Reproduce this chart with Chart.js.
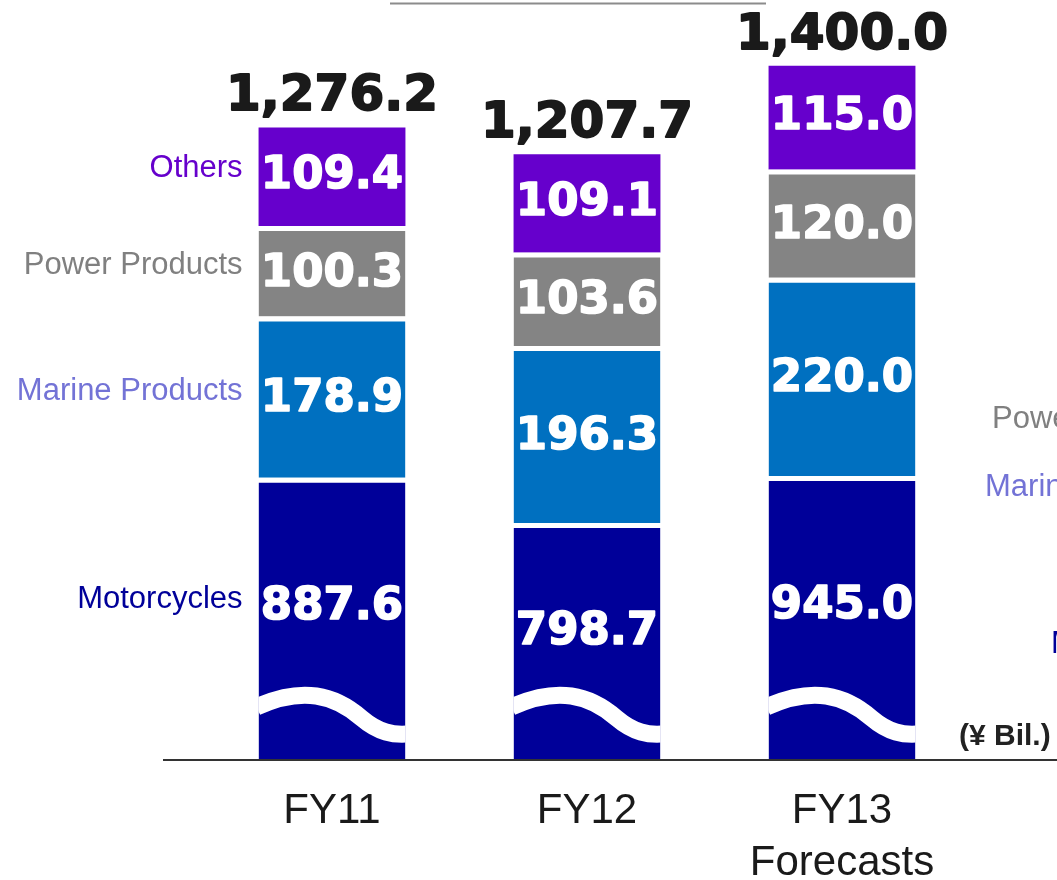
<!DOCTYPE html>
<html>
<head>
<meta charset="utf-8">
<script src="https://cdn.jsdelivr.net/npm/chart.js@4/dist/chart.umd.min.js"></script>
<style>
  html, body { margin: 0; padding: 0; background: #fff; }
  #wrap { width: 1057px; height: 880px; }
</style>
</head>
<body>
<div id="wrap"><canvas id="chart" width="1057" height="880"></canvas></div>
<script>
// Data (¥ Bil.)
const categories = ['FY11', 'FY12', ['FY13', 'Forecasts']];
const totals = [1276.2, 1207.7, 1400.0];
const motorcycles = [887.6, 798.7, 945.0];
// part of the motorcycle bar drawn above the axis break
const motorcyclesShown = [313, 263, 315];
const marine = [178.9, 196.3, 220.0];
const power = [100.3, 103.6, 120.0];
const others = [109.4, 109.1, 115.0];
const yMax = 843;

const segmentNames = ['Motorcycles', 'Marine Products', 'Power Products', 'Others'];
const segmentColors = ['#000099', '#0070C0', '#848484', '#6600CC'];
const nameColors = ['#000099', '#7373D6', '#808080', '#6600CC'];
const gap = 5;

// narrow font for the category labels if it is installed
function fontExists(name) {
  const c = document.createElement('canvas').getContext('2d');
  c.font = '40px monospace';
  const base = c.measureText('FY11 Forecasts').width;
  c.font = '40px "' + name + '", monospace';
  return c.measureText('FY11 Forecasts').width !== base;
}
const tickFont = fontExists('Liberation Sans Narrow')
  ? { family: '"Liberation Sans Narrow"', size: 48, lineHeight: 52 / 48 }
  : { family: '"Liberation Sans", Arial', size: 42, lineHeight: 52 / 42 };

// heavy text: fill plus a thin stroke of the same colour
function heavyText(ctx, txt, x, y, color, weight) {
  ctx.fillStyle = color;
  ctx.strokeStyle = color;
  ctx.lineWidth = weight;
  ctx.lineJoin = 'round';
  ctx.strokeText(txt, x, y);
  ctx.fillText(txt, x, y);
}

const decorPlugin = {
  id: 'decor',
  afterDatasetsDraw(chart) {
    const ctx = chart.ctx;
    const base = chart.scales.y.getPixelForValue(0);
    const values = [motorcycles, marine, power, others];

    // wavy break across the motorcycle bars
    chart.getDatasetMeta(0).data.forEach(bar => {
      const L = bar.x - bar.width / 2, w = bar.width;
      ctx.save();
      ctx.beginPath();
      ctx.rect(L, bar.y, w, base - bar.y);
      ctx.clip();
      ctx.beginPath();
      ctx.moveTo(L - 2, base - 53);
      ctx.bezierCurveTo(L + 0.3 * w, base - 74, L + 0.52 * w, base - 65, L + 0.7 * w, base - 42);
      ctx.bezierCurveTo(L + 0.82 * w, base - 27, L + 0.92 * w, base - 25, L + w + 2, base - 26);
      ctx.strokeStyle = '#fff';
      ctx.lineWidth = 17;
      ctx.stroke();
      ctx.restore();
    });

    // base line
    ctx.save();
    ctx.strokeStyle = '#333';
    ctx.lineWidth = 2;
    ctx.beginPath();
    ctx.moveTo(163, base);
    ctx.lineTo(1057, base);
    ctx.stroke();

    // top rule (cut off title)
    ctx.strokeStyle = '#8c8c8c';
    ctx.beginPath();
    ctx.moveTo(390, 3.5);
    ctx.lineTo(766, 3.5);
    ctx.stroke();

    // values inside segments + names on the left
    ctx.textBaseline = 'middle';
    chart.data.datasets.forEach((ds, di) => {
      chart.getDatasetMeta(di).data.forEach((bar, i) => {
        const top = bar.y + (di < 3 ? gap : 0);
        const bottom = bar.base;
        const cy = di === 0 ? top + 0.45 * (bottom - top) : (top + bottom) / 2;
        ctx.textAlign = 'center';
        ctx.font = 'bold 45px "DejaVu Sans"';
        heavyText(ctx, values[di][i].toFixed(1), bar.x, cy, '#fff', 1.6);
        if (i === 0) {
          ctx.fillStyle = nameColors[di];
          ctx.textAlign = 'right';
          ctx.font = '31px "Liberation Sans", Arial';
          ctx.fillText(segmentNames[di], bar.x - bar.width / 2 - 16, cy - 8);
        }
      });
    });

    // totals above the bars
    ctx.textAlign = 'center';
    ctx.textBaseline = 'alphabetic';
    ctx.font = 'bold 50px "DejaVu Sans"';
    chart.getDatasetMeta(3).data.forEach((bar, i) => {
      const txt = totals[i].toLocaleString('en-US', { minimumFractionDigits: 1 });
      heavyText(ctx, txt, bar.x, bar.y - 17, '#1a1a1a', 1.8);
    });

    // labels of the next chart, cut off at the right edge
    ctx.textAlign = 'left';
    ctx.textBaseline = 'middle';
    ctx.font = '31px "Liberation Sans", Arial';
    ctx.fillStyle = nameColors[2];
    ctx.fillText(segmentNames[2], 992, 419);
    ctx.fillStyle = nameColors[1];
    ctx.fillText(segmentNames[1], 985, 487);
    ctx.fillStyle = nameColors[0];
    ctx.fillText(segmentNames[0], 1051, 644);

    ctx.fillStyle = '#222';
    ctx.font = 'bold 30px "Liberation Sans", Arial';
    ctx.fillText('(\u00A5 Bil.)', 959, 737);
    ctx.restore();
  }
};

const shownData = [motorcyclesShown, marine, power, others];

new Chart(document.getElementById('chart'), {
  type: 'bar',
  data: {
    labels: categories,
    datasets: shownData.map((d, di) => ({
      label: segmentNames[di],
      data: d,
      backgroundColor: segmentColors[di],
      borderColor: '#fff',
      borderWidth: di < 3 ? { top: gap, left: 0, right: 0, bottom: 0 } : 0,
      categoryPercentage: 1,
      barPercentage: 0.576
    }))
  },
  options: {
    responsive: false,
    animation: false,
    layout: { padding: { left: 204.5, right: 87.5, top: 0, bottom: -34 } },
    plugins: {
      legend: { display: false },
      tooltip: { enabled: false }
    },
    scales: {
      x: {
        stacked: true,
        grid: { display: false, drawTicks: false },
        border: { display: false },
        ticks: { color: '#1a1a1a', font: tickFont, padding: 25, maxRotation: 0 }
      },
      y: {
        stacked: true,
        display: false,
        min: 0,
        max: yMax
      }
    }
  },
  plugins: [decorPlugin]
});
</script>
</body>
</html>
